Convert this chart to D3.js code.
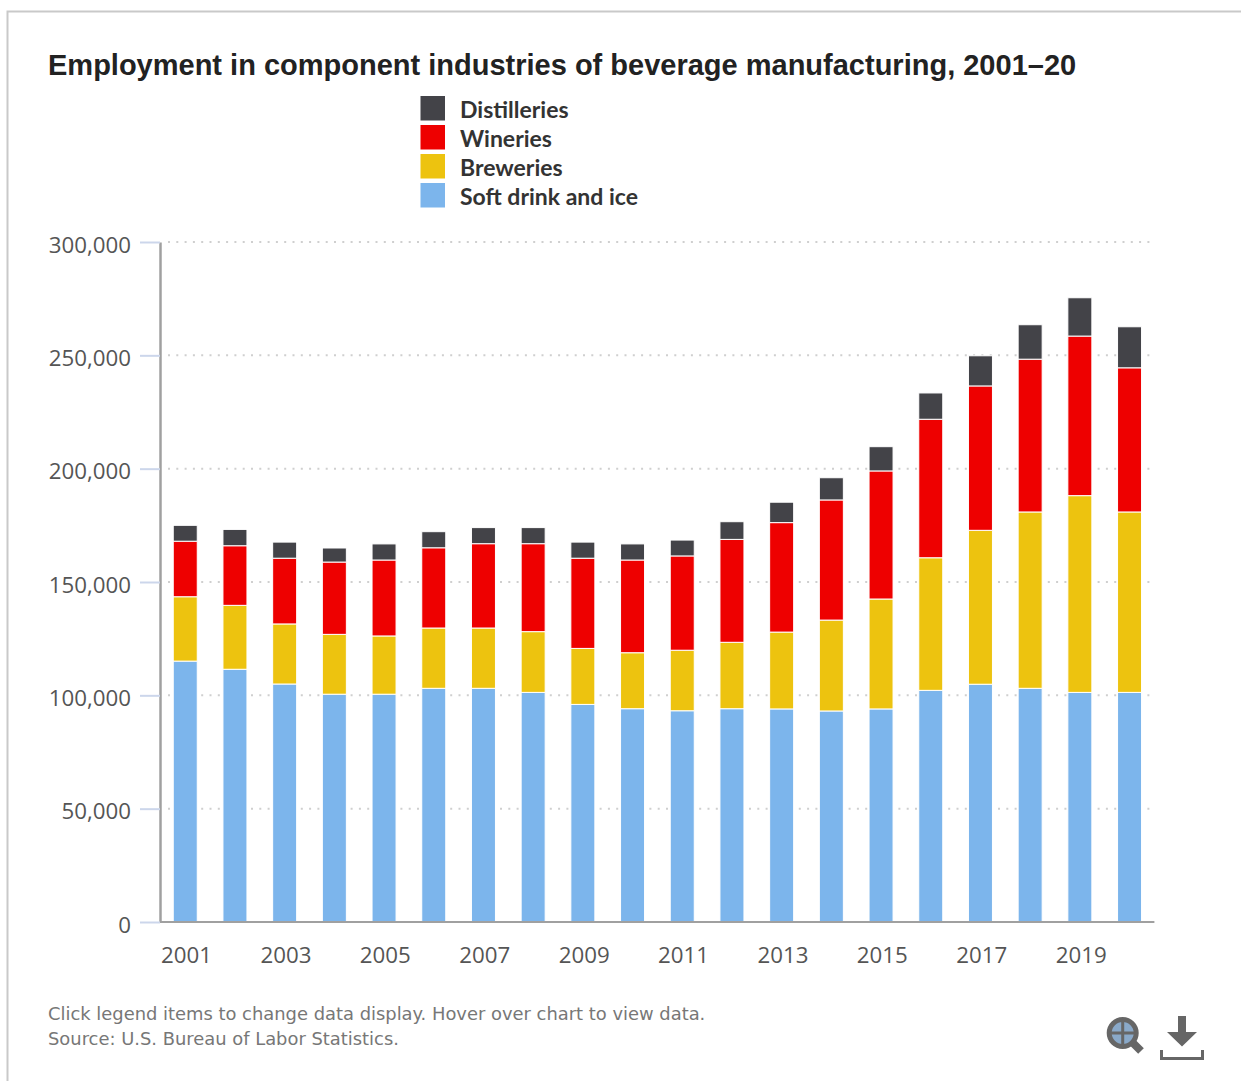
<!DOCTYPE html>
<html>
<head>
<meta charset="utf-8">
<title>Employment in component industries of beverage manufacturing, 2001–20</title>
<script src="https://cdn.jsdelivr.net/npm/d3@7/dist/d3.min.js"></script>
<style>
  html, body { margin: 0; padding: 0; background: #fff; }
  svg { display: block; }
  .tick-label { font-family: "Open Sans", sans-serif; font-size: 22.3px; fill: #555; }
</style>
</head>
<body>
<svg id="chart" width="1241" height="1081"></svg>
<script>
// Employment by industry, in jobs per year
const years = [2001,2002,2003,2004,2005,2006,2007,2008,2009,2010,2011,2012,2013,2014,2015,2016,2017,2018,2019,2020];
const softDrink   = [115100,111500,105000,100500,100500,103100,103100,101300,96000,94100,93200,94100,94000,93100,94000,102200,104900,103100,101300,101300];
const breweries   = [28400,28200,26500,26400,25700,26600,26600,26800,24700,24700,26700,29300,33900,40100,48500,58500,67900,77800,86800,79600];
const wineries    = [24500,26300,29000,31900,33500,35400,37200,38800,39800,40900,41600,45400,48300,53000,56500,61100,63700,67400,70400,63600];
const distilleries= [7000,7200,7100,6200,7100,7100,7100,7100,7100,7100,7000,7800,9000,9800,10700,11600,13300,15200,16900,18100];

const seriesNames = ["Soft drink and ice","Breweries","Wineries","Distilleries"];
const seriesColors = ["#7cb5ec","#edc30f","#ee0000","#434348"];
const legendOrder = ["Distilleries","Wineries","Breweries","Soft drink and ice"];
const yTicks = [0,50000,100000,150000,200000,250000,300000];
const xTicks = years.filter((d,i) => i % 2 === 0);

const rows = years.map((year,i) => ({
  year,
  "Soft drink and ice": softDrink[i],
  "Breweries": breweries[i],
  "Wineries": wineries[i],
  "Distilleries": distilleries[i]
}));

const svg = d3.select("#chart");
const plot = {left:160, right:1154.4, top:242, bottom:922};

// Card outline, open towards the right and bottom edges
svg.append("path")
  .attr("d","M7.5 1081V11.5H1241")
  .attr("fill","none").attr("stroke","#c9c9c9").attr("stroke-width",2);

svg.append("text").attr("x",48).attr("y",75)
  .attr("font-family","'Liberation Sans', Arial, sans-serif")
  .attr("font-weight",700).attr("font-size",29).attr("fill","#222")
  .text("Employment in component industries of beverage manufacturing, 2001–20");

const x = d3.scaleBand().domain(years).range([plot.left+0.4,plot.right]).paddingInner(0.517).paddingOuter(0.2585);
const y = d3.scaleLinear().domain([0,300000]).range([plot.bottom,plot.top]);
const color = d3.scaleOrdinal(seriesNames,seriesColors);

// Dotted gridlines
svg.append("g").selectAll("line").data(yTicks.slice(1)).join("line")
  .attr("x1",plot.left+8).attr("x2",1151)
  .attr("y1",d=>y(d)).attr("y2",d=>y(d))
  .attr("stroke","#cfcfcf").attr("stroke-width",2).attr("stroke-dasharray","2 6.3");

// Stacked columns
const stacked = d3.stack().keys(seriesNames)(rows);
svg.append("g").selectAll("g").data(stacked).join("g")
  .attr("fill",s=>color(s.key))
  .selectAll("rect").data(s=>s).join("rect")
  .attr("x",d=>x(d.data.year))
  .attr("width",x.bandwidth())
  .attr("y",d=>y(d[1]))
  .attr("height",d=>y(d[0])-y(d[1]))
  .attr("stroke","#fff").attr("stroke-width",1);

// Value axis
const yAxis = svg.append("g").attr("transform",`translate(${plot.left},0)`)
  .call(d3.axisLeft(y).tickValues(yTicks).tickFormat(d3.format(",")).tickSize(20).tickPadding(9).tickSizeOuter(0));
yAxis.select(".domain").attr("stroke","#a0a0a0").attr("stroke-width",2.5);
yAxis.selectAll(".tick line").attr("stroke","#ccd6eb").attr("stroke-width",2);
yAxis.selectAll(".tick text").attr("class","tick-label").attr("dy","0.45em").attr("fill",null);

// Year axis
const xAxis = svg.append("g").attr("transform",`translate(0,${plot.bottom})`)
  .call(d3.axisBottom(x).tickValues(xTicks).tickSize(0).tickPadding(25));
xAxis.select(".domain").attr("stroke","#a0a0a0").attr("stroke-width",2)
  .attr("d",`M${plot.left},0H${plot.right}`);
xAxis.selectAll(".tick text").attr("class","tick-label").attr("dx",1.3).attr("fill",null);

// Legend
const legend = svg.append("g").selectAll("g").data(legendOrder).join("g")
  .attr("transform",(d,i)=>`translate(420.5,${96+i*29})`);
legend.append("rect").attr("width",24.5).attr("height",24.5).attr("fill",d=>color(d));
legend.append("text").attr("x",39.5).attr("y",22)
  .attr("font-family","Lato, sans-serif").attr("font-weight",700)
  .attr("font-size",23).attr("fill","#333").text(d=>d);

// Footnotes
const notes = ["Click legend items to change data display. Hover over chart to view data.","Source: U.S. Bureau of Labor Statistics."];
svg.append("g").selectAll("text").data(notes).join("text")
  .attr("x",48).attr("y",(d,i)=>1020+i*25)
  .attr("font-family","'DejaVu Sans', sans-serif").attr("font-size",17.9).attr("fill","#777").text(d=>d);

// Zoom icon
const zoomIcon = svg.append("g");
zoomIcon.append("path").attr("d","M1132 1042L1141 1051").attr("stroke","#666").attr("stroke-width",8).attr("fill","none");
zoomIcon.append("circle").attr("cx",1122.7).attr("cy",1033).attr("r",13.5).attr("fill","#8aa9c9").attr("stroke","#666").attr("stroke-width",5);
zoomIcon.append("path").attr("d","M1122.7 1020V1046M1109.7 1033H1135.7").attr("stroke","#666").attr("stroke-width",3);

// Download icon
svg.append("path").attr("d","M1178 1016H1186V1032H1197L1182 1046.5L1167 1032H1178Z").attr("fill","#666");
svg.append("path").attr("d","M1161.5 1050V1058.5H1202.5V1050").attr("fill","none").attr("stroke","#666").attr("stroke-width",3);
</script>
</body>
</html>
